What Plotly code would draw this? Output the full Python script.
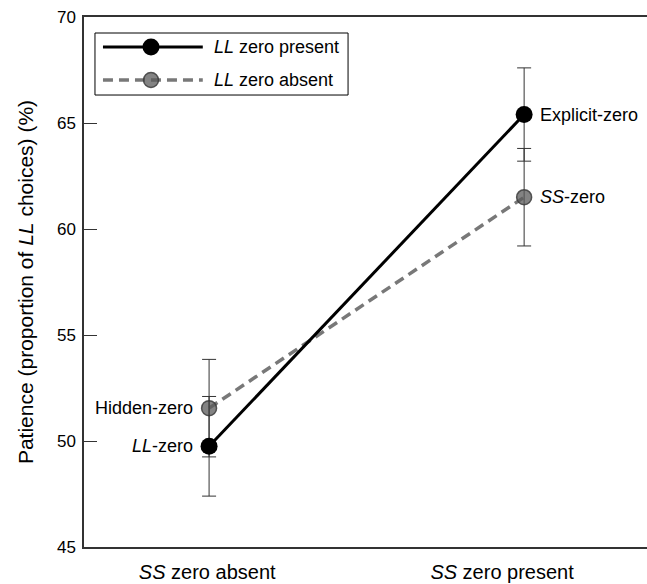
import plotly.graph_objects as go

categories = ["<i>SS</i> zero absent", "<i>SS</i> zero present"]
x_pos = [0, 1]
tick_pos = [-0.006, 0.93]

present_vals = [49.75, 65.4]
present_err = [2.35, 2.2]
present_labels = ["<i>LL</i>-zero", "Explicit-zero"]

absent_vals = [51.55, 61.5]
absent_err = [2.3, 2.3]
absent_labels = ["Hidden-zero", "<i>SS</i>-zero"]

y_ticks = [45, 50, 55, 60, 65, 70]

FONT = "Liberation Sans, Arial, sans-serif"
GRAY = "rgb(120,120,120)"
GRAY_FILL = "rgba(90,90,90,0.75)"
GRAY_RING = "rgba(60,60,60,0.85)"

fig = go.Figure()

fig.add_trace(go.Scatter(
    x=x_pos, y=absent_vals, mode="lines+markers",
    line=dict(color=GRAY, width=3.5, dash="10px,6px"),
    marker=dict(size=15, color=GRAY_FILL, line=dict(color=GRAY_RING, width=1.5)),
    error_y=dict(type="data", array=absent_err, color="#333", thickness=1, width=7),
    showlegend=False, cliponaxis=False,
))

fig.add_trace(go.Scatter(
    x=x_pos, y=present_vals, mode="lines+markers",
    line=dict(color="black", width=3),
    marker=dict(size=17, color="black", line=dict(width=0)),
    error_y=dict(type="data", array=present_err, color="#333", thickness=1, width=7),
    showlegend=False, cliponaxis=False,
))

# point labels
for vals, labels in [(present_vals, present_labels), (absent_vals, absent_labels)]:
    for i, (xv, yv, lab) in enumerate(zip(x_pos, vals, labels)):
        fig.add_annotation(x=xv, y=yv, text=lab, showarrow=False,
                           xanchor="right" if i == 0 else "left", yanchor="middle",
                           xshift=-14 if i == 0 else 14,
                           font=dict(size=18, color="black", family=FONT))

# Legend drawn on an overlay axis in paper-like units
lx0, lx1, lxm = 0.0337, 0.211, 0.119
ly1, ly2 = 0.9434, 0.8811
fig.add_trace(go.Scatter(
    x=[lx0, lx1], y=[ly1, ly1], mode="lines",
    line=dict(color="black", width=3),
    xaxis="x2", yaxis="y2", showlegend=False, hoverinfo="skip",
))
fig.add_trace(go.Scatter(
    x=[lxm], y=[ly1], mode="markers",
    marker=dict(size=17, color="black", line=dict(width=0)),
    xaxis="x2", yaxis="y2", showlegend=False, hoverinfo="skip",
))
fig.add_trace(go.Scatter(
    x=[lx0, lx1], y=[ly2, ly2], mode="lines",
    line=dict(color=GRAY, width=3.5, dash="10px,6px"),
    xaxis="x2", yaxis="y2", showlegend=False, hoverinfo="skip",
))
fig.add_trace(go.Scatter(
    x=[lxm], y=[ly2], mode="markers",
    marker=dict(size=15, color=GRAY_FILL, line=dict(color=GRAY_RING, width=1.5)),
    xaxis="x2", yaxis="y2", showlegend=False, hoverinfo="skip",
))

fig.add_shape(type="rect", xref="paper", yref="paper",
              x0=0.0195, x1=0.469, y0=0.8528, y1=0.9698,
              line=dict(color="black", width=1), fillcolor="rgba(0,0,0,0)")
for yy, txt in [(ly1, "<i>LL</i> zero present"), (ly2, "<i>LL</i> zero absent")]:
    fig.add_annotation(x=0.227, y=yy, xref="paper", yref="paper", text=txt,
                       showarrow=False, xanchor="left", yanchor="middle",
                       font=dict(size=18, color="black", family=FONT))

fig.update_layout(
    width=647, height=584,
    margin=dict(l=84, r=0, t=17, b=37, autoexpand=False),
    paper_bgcolor="white", plot_bgcolor="white",
    font=dict(family=FONT, color="black"),
    xaxis=dict(range=[-0.397, 1.39], tickvals=tick_pos, ticktext=categories,
               showgrid=False, zeroline=False, showline=True, linecolor="#333",
               linewidth=1.5, mirror=True, ticks="", tickfont=dict(size=20),
               ticklabelstandoff=6, automargin=False),
    yaxis=dict(range=[45, 70], tickvals=y_ticks, showgrid=False, zeroline=False,
               showline=True, linecolor="#333", linewidth=1.5, ticks="inside",
               ticklen=13, tickcolor="#333", tickwidth=1, tickfont=dict(size=17),
               ticklabelstandoff=3, automargin=False,
               title=dict(text="Patience (proportion of <i>LL</i> choices) (%)",
                          font=dict(size=21), standoff=18)),
    xaxis2=dict(overlaying="x", range=[0, 1], visible=False),
    yaxis2=dict(overlaying="y", range=[0, 1], visible=False),
)

fig.write_html("out.html", config={"displayModeBar": False},
               post_script="document.body.style.margin='0';")
